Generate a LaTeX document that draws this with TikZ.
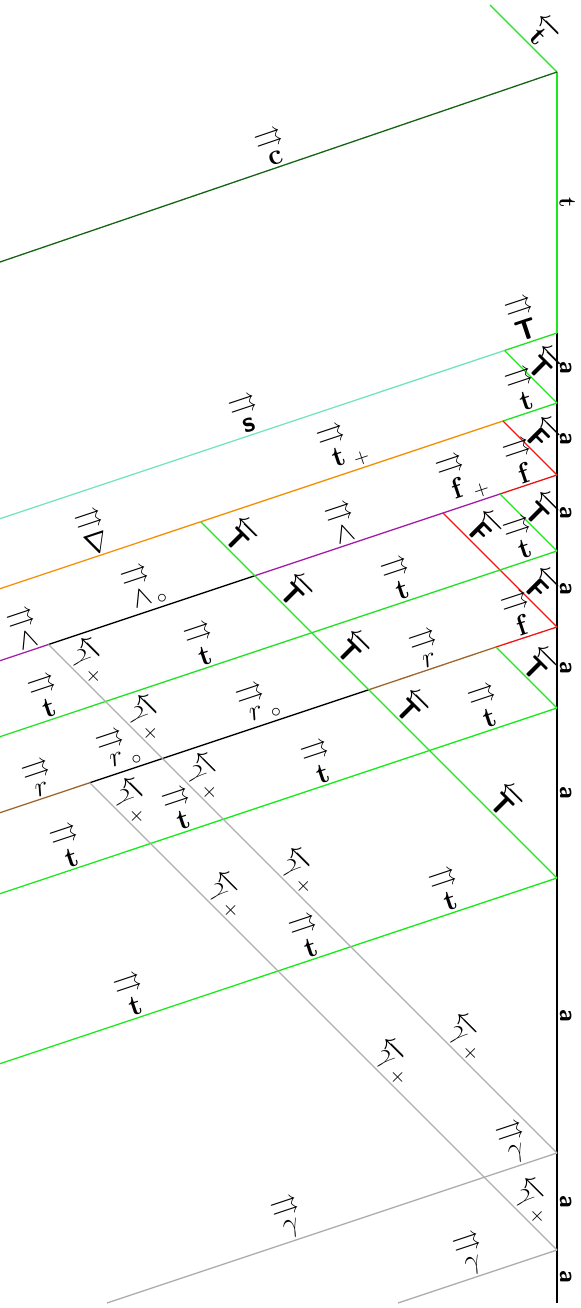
\documentclass[tikz,border=0pt]{standalone}
\usepackage{amsmath,amssymb}
\definecolor{grn}{RGB}{30,230,30}
\definecolor{dgrn}{RGB}{20,100,20}
\definecolor{aqua}{RGB}{110,230,190}
\definecolor{orng}{RGB}{255,140,0}
\definecolor{rd}{RGB}{240,20,20}
\definecolor{prpl}{RGB}{170,30,170}
\definecolor{brwn}{RGB}{160,100,40}
\definecolor{gry}{RGB}{175,175,175}
\newcommand{\rra}[1]{\overset{\scalebox{1.4}{$\scriptstyle\rightrightarrows$}}{#1}}
\newcommand{\lla}[1]{\overleftarrow{#1}}
\newcommand{\sfb}[1]{\text{\sffamily\bfseries #1}}
\begin{document}
\begin{tikzpicture}[x=0.5pt, y=-0.5pt, line width=0.65pt,
  lbl/.style={sloped, above, midway, inner sep=1pt, text=black, font=\Large},
  base/.style={midway, rotate=-90, anchor=south, text=black, font=\large\sffamily\bfseries, inner sep=1pt}]
\useasboundingbox (0,0) rectangle (581,1308);
% vertices on the base line
\coordinate (v0) at (557,72);
\coordinate (v1) at (557,333);
\coordinate (v2) at (557,403);
\coordinate (v3) at (557,475);
\coordinate (v4) at (557,551);
\coordinate (v5) at (557,627);
\coordinate (v6) at (557,708);
\coordinate (v7) at (557,878);
\coordinate (v8) at (557,1153);
\coordinate (v9) at (557,1250);
\coordinate (bot) at (557,1303);
% junctions
\coordinate (j12) at (504.5,350.5);
\coordinate (j23) at (503,421);
\coordinate (j34) at (500,494);
\coordinate (j35) at (443,513);
\coordinate (j56) at (496,647);
\coordinate (j27) at (200.75,521.75);
\coordinate (j38) at (48.5,644.5);
\coordinate (j59) at (89.75,782.75);
% crossings
\coordinate (x45) at (500,570);
\coordinate (c3) at (254.75,575.75);
\coordinate (c4) at (311.75,632.75);
\coordinate (c5) at (368.75,689.75);
\coordinate (c6) at (429.5,750.5);
\coordinate (g14) at (105.5,701.5);
\coordinate (g15) at (162.5,758.5);
\coordinate (g16) at (223.25,819.25);
\coordinate (g17) at (350.75,946.75);
\coordinate (g26) at (150.5,843.5);
\coordinate (g27) at (278,971);
\coordinate (g28) at (484.25,1177.25);
% free ends
\coordinate (top) at (490,5);
\coordinate (e0) at (0,262);
\coordinate (e1) at (0,518.7);
\coordinate (e2) at (0,588.7);
\coordinate (e3) at (0,660.7);
\coordinate (e4) at (0,736.7);
\coordinate (e5) at (0,812.7);
\coordinate (e6) at (0,893.7);
\coordinate (e7) at (0,1063.7);
\coordinate (e8) at (107,1303);
\coordinate (e9) at (398,1303);

% base line
\draw[grn] (v0) -- node[base]{$\mathbf{t}$} (v1);
\draw[line width=0.9pt] (v1) -- node[base]{a} (v2) -- node[base]{a} (v3)
  -- node[base]{a} (v4) -- node[base]{a} (v5) -- node[base]{a} (v6)
  -- node[base]{a} (v7) -- node[base]{a} (v8) -- node[base]{a} (v9)
  -- node[base]{a} (bot);

% top
\draw[grn] (top) -- node[lbl, pos=0.6]{$\lla{\mathbf t}$} (v0);
\draw[dgrn] (v0) -- node[lbl]{$\rra{\mathbf c}$} (e0);
% from v1
\draw[grn] (v1) -- node[lbl]{$\rra{\sfb{T}}$} (j12);
\draw[aqua] (j12) -- node[lbl]{$\rra{\sfb{s}}$} (e1);
\draw[grn] (j12) -- node[lbl]{$\lla{\sfb{T}}$} (v2);
% from v2
\draw[grn] (v2) -- node[lbl]{$\rra{\mathbf t}$} (j23);
\draw[orng] (j23) -- node[lbl]{$\rra{\mathbf t}_+$} (j27);
\draw[orng] (j27) -- node[lbl]{$\rra{\nabla}$} (e2);
\draw[rd] (j23) -- node[lbl]{$\lla{\sfb{F}}$} (v3);
% from v3
\draw[rd] (v3) -- node[lbl]{$\rra{\mathbf f}$} (j34);
\draw[prpl] (j34) -- node[lbl]{$\rra{\mathbf f}_+$} (j35);
\draw[prpl] (j35) -- node[lbl]{$\rra{\wedge}$} (c3);
\draw (c3) -- node[lbl]{$\rra{\wedge}_\circ$} (j38);
\draw[prpl] (j38) -- node[lbl, pos=0.35]{$\rra{\wedge}$} (e3);
\draw[grn] (j34) -- node[lbl]{$\lla{\sfb{T}}$} (v4);
\draw[rd] (j35) -- node[lbl]{$\lla{\sfb{F}}$} (x45);
\draw[rd] (x45) -- node[lbl]{$\lla{\sfb{F}}$} (v5);
% from v4
\draw[grn] (v4) -- node[lbl]{$\rra{\mathbf t}$} (x45);
\draw[grn] (x45) -- node[lbl]{$\rra{\mathbf t}$} (c4);
\draw[grn] (c4) -- node[lbl]{$\rra{\mathbf t}$} (g14);
\draw[grn] (g14) -- node[lbl]{$\rra{\mathbf t}$} (e4);
% from v5
\draw[rd] (v5) -- node[lbl]{$\rra{\mathbf f}$} (j56);
\draw[brwn] (j56) -- node[lbl]{$\rra{r}$} (c5);
\draw (c5) -- node[lbl]{$\rra{r}_\circ$} (g15);
\draw (g15) -- node[lbl]{$\rra{r}_\circ$} (j59);
\draw[brwn] (j59) -- node[lbl]{$\rra{r}$} (e5);
\draw[grn] (j56) -- node[lbl]{$\lla{\sfb{T}}$} (v6);
% long T line
\draw[grn] (j27) -- node[lbl]{$\lla{\sfb{T}}$} (c3);
\draw[grn] (c3) -- node[lbl]{$\lla{\sfb{T}}$} (c4);
\draw[grn] (c4) -- node[lbl]{$\lla{\sfb{T}}$} (c5);
\draw[grn] (c5) -- node[lbl]{$\lla{\sfb{T}}$} (c6);
\draw[grn] (c6) -- node[lbl]{$\lla{\sfb{T}}$} (v7);
% from v6
\draw[grn] (v6) -- node[lbl]{$\rra{\mathbf t}$} (c6);
\draw[grn] (c6) -- node[lbl]{$\rra{\mathbf t}$} (g16);
\draw[grn] (g16) -- node[lbl]{$\rra{\mathbf t}$} (g26);
\draw[grn] (g26) -- node[lbl]{$\rra{\mathbf t}$} (e6);
% from v7
\draw[grn] (v7) -- node[lbl]{$\rra{\mathbf t}$} (g17);
\draw[grn] (g17) -- node[lbl]{$\rra{\mathbf t}$} (g27);
\draw[grn] (g27) -- node[lbl]{$\rra{\mathbf t}$} (e7);
% gamma lines
\draw[gry] (j38) -- node[lbl]{$\lla{\gamma}_+$} (g14);
\draw[gry] (g14) -- node[lbl]{$\lla{\gamma}_+$} (g15);
\draw[gry] (g15) -- node[lbl]{$\lla{\gamma}_+$} (g16);
\draw[gry] (g16) -- node[lbl]{$\lla{\gamma}_+$} (g17);
\draw[gry] (g17) -- node[lbl]{$\lla{\gamma}_+$} (v8);
\draw[gry] (j59) -- node[lbl]{$\lla{\gamma}_+$} (g26);
\draw[gry] (g26) -- node[lbl]{$\lla{\gamma}_+$} (g27);
\draw[gry] (g27) -- node[lbl]{$\lla{\gamma}_+$} (g28);
\draw[gry] (g28) -- node[lbl]{$\lla{\gamma}_+$} (v9);
\draw[gry] (v8) -- node[lbl]{$\rra{\gamma}$} (g28);
\draw[gry] (g28) -- node[lbl]{$\rra{\gamma}$} (e8);
\draw[gry] (v9) -- node[lbl]{$\rra{\gamma}$} (e9);
\end{tikzpicture}
\end{document}
